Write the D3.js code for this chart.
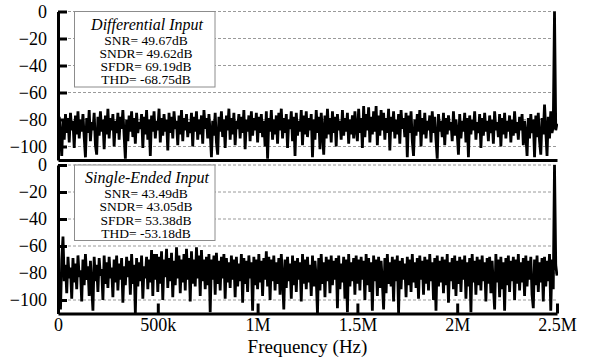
<!DOCTYPE html>
<html>
<head>
<meta charset="utf-8">
<script src="https://cdn.jsdelivr.net/npm/d3@7"></script>
<style>
  body { margin: 0; background: #fff; }
  .grid line { stroke: #9a9a9a; stroke-width: 1; stroke-dasharray: 3,2; }
  .axis path, .axis line { stroke: #000; stroke-width: 3; }
  .axis text { fill: #000; }
</style>
</head>
<body>
<script>
var fullWidth = 590;
var fullHeight = 361;
var serif = "'Liberation Serif', 'Times New Roman', 'DejaVu Serif', serif";

// FFT bins: 401 points from 0 to 2.5 MHz
var fMax = 2500000;

// spectrum (dB), differential input
var diffDb = [
  -84, -78, -92, -107, -80, -95, -76, -90, -79, -97, -75, -88, -81, -101, -77, -91, -74, -94, -80, -89,
  -76, -93, -108, -79, -90, -73, -96, -82, -88, -75, -99, -106, -78, -92, -74, -89, -80, -102, -77, -91,
  -72, -94, -79, -88, -76, -100, -81, -90, -75, -95, -78, -87, -73, -92, -109, -80, -96, -77, -89, -74,
  -93, -79, -98, -75, -90, -82, -87, -76, -101, -78, -91, -73, -95, -80, -107, -77, -89, -74, -94, -81,
  -88, -72, -97, -79, -92, -76, -89, -80, -103, -75, -90, -78, -94, -74, -87, -81, -99, -77, -91, -73,
  -96, -79, -88, -76, -93, -82, -90, -75, -100, -78, -89, -74, -95, -80, -91, -77, -98, -73, -87, -79,
  -94, -76, -90, -108, -81, -92, -75, -97, -106, -78, -89, -74, -93, -80, -101, -77, -88, -72, -95, -79,
  -91, -75, -99, -81, -87, -76, -94, -78, -90, -73, -102, -80, -89, -77, -96, -74, -92, -79, -88, -75,
  -97, -78, -90, -76, -93, -81, -100, -74, -109, -79, -89, -73, -95, -80, -91, -77, -98, -75, -88, -72,
  -94, -79, -90, -76, -101, -80, -87, -74, -96, -78, -107, -75, -92, -81, -89, -73, -99, -77, -91, -74,
  -93, -79, -88, -76, -108, -80, -95, -73, -90, -78, -102, -75, -89, -106, -77, -94, -72, -91, -79, -97,
  -74, -90, -78, -100, -76, -88, -81, -95, -73, -92, -79, -89, -75, -98, -80, -91, -77, -94, -74, -87,
  -96, -72, -90, -79, -101, -70, -93, -76, -88, -71, -97, -78, -91, -74, -89, -70, -99, -77, -92, -73,
  -88, -75, -95, -79, -90, -72, -103, -78, -89, -74, -94, -80, -91, -76, -98, -73, -87, -79, -93, -75,
  -108, -77, -90, -74, -96, -107, -80, -92, -76, -89, -73, -100, -79, -91, -75, -94, -81, -88, -77, -97,
  -74, -90, -78, -95, -109, -76, -89, -81, -93, -75, -99, -79, -91, -77, -88, -82, -96, -74, -92, -80,
  -90, -106, -76, -94, -81, -89, -75, -97, -79, -108, -77, -91, -80, -88, -74, -95, -82, -90, -76, -101,
  -79, -92, -75, -89, -81, -96, -77, -90, -80, -98, -74, -88, -82, -93, -76, -100, -79, -91, -75, -94,
  -81, -89, -77, -97, -80, -92, -74, -90, -82, -95, -78, -88, -76, -99, -81, -91, -107, -79, -94, -76,
  -90, -80, -108, -77, -93, -75, -96, -106, -79, -91, -69, -88, -107, -78, -94, -74, -90, -85, 0, -88,
  -83
];

// spectrum (dB), single-ended input
var singleDb = [
  -72, -88, -107, -70, -53, -86, -74, -95, -68, -84, -76, -99, -69, -87, -73, -92, -67, -83, -78, -101,
  -70, -89, -66, -85, -75, -97, -71, -90, -108, -68, -86, -74, -94, -69, -82, -77, -100, -67, -88, -72,
  -91, -68, -84, -76, -98, -70, -87, -67, -93, -73, -85, -69, -102, -75, -89, -68, -83, -71, -96, -66,
  -88, -74, -110, -69, -90, -72, -86, -67, -99, -75, -84, -68, -92, -70, -87, -63, -97, -66, -85, -66,
  -94, -68, -88, -64, -100, -70, -83, -62, -91, -69, -86, -65, -98, -71, -89, -61, -84, -67, -95, -70,
  -87, -66, -93, -62, -85, -69, -101, -64, -88, -70, -90, -61, -84, -67, -97, -63, -86, -70, -92, -68,
  -89, -66, -109, -70, -85, -67, -96, -65, -88, -71, -93, -68, -84, -66, -99, -69, -87, -72, -91, -67,
  -85, -70, -98, -68, -90, -73, -86, -66, -102, -69, -88, -71, -94, -67, -84, -72, -108, -68, -89, -70,
  -92, -66, -87, -71, -97, -69, -85, -64, -90, -68, -100, -70, -86, -67, -93, -72, -88, -69, -96, -66,
  -84, -107, -70, -91, -68, -86, -73, -99, -67, -89, -71, -94, -69, -85, -72, -101, -66, -88, -70, -92,
  -68, -87, -74, -97, -67, -90, -71, -84, -110, -69, -93, -66, -88, -72, -98, -68, -86, -70, -95, -67,
  -89, -71, -85, -69, -106, -67, -92, -73, -87, -68, -99, -70, -109, -66, -90, -72, -86, -69, -96, -67,
  -88, -70, -93, -68, -85, -71, -100, -66, -89, -69, -94, -72, -108, -67, -86, -70, -97, -68, -91, -71,
  -87, -107, -69, -95, -66, -88, -72, -90, -68, -101, -70, -86, -67, -110, -71, -92, -69, -85, -73, -98,
  -68, -89, -70, -94, -66, -87, -72, -91, -69, -99, -67, -85, -71, -96, -68, -88, -70, -93, -66, -86,
  -72, -100, -69, -108, -67, -90, -71, -87, -68, -95, -70, -89, -66, -102, -72, -86, -69, -92, -67, -97,
  -71, -88, -68, -94, -70, -85, -67, -99, -72, -90, -69, -109, -66, -87, -71, -96, -68, -89, -70, -93,
  -67, -86, -72, -101, -69, -88, -68, -95, -71, -90, -107, -66, -87, -70, -98, -68, -92, -72, -108, -69,
  -89, -67, -94, -71, -86, -68, -100, -70, -88, -66, -93, -72, -87, -69, -97, -67, -90, -71, -85, -68,
  -96, -106, -70, -89, -67, -94, -72, -87, -69, -101, -68, -90, -71, -86, -66, -108, -70, -92, 0, -74,
  -82
];

var yTicks = [0, -20, -40, -60, -80, -100];
var xTicks = [0, 500000, 1000000, 1500000, 2000000, 2500000];
var xTickLabels = ["0", "500k", "1M", "1.5M", "2M", "2.5M"];

var panels = [
  { data: diffDb, title: "Differential Input",
    lines: ["SNR= 49.67dB", "SNDR= 49.62dB", "SFDR= 69.19dB", "THD= -68.75dB"],
    top: 11.5, bottom: 160, xTicks: false },
  { data: singleDb, title: "Single-Ended Input",
    lines: ["SNR= 43.49dB", "SNDR= 43.05dB", "SFDR= 53.38dB", "THD= -53.18dB"],
    top: 165, bottom: 313.5, xTicks: true }
];

var left = 58, right = 557;

var svg = d3.select("body")
            .append("svg")
            .attr("width", fullWidth)
            .attr("height", fullHeight)
            .attr("font-family", serif);

var xScale = d3.scaleLinear()
               .domain([0, fMax])
               .range([left, right]);

var step = fMax / (diffDb.length - 1);

panels.forEach(function(p, k) {

    var yScale = d3.scaleLinear()
                   .domain([-110, 0])
                   .range([p.bottom, p.top]);

    // dashed grid
    svg.append("g")
       .attr("class", "grid")
       .selectAll("line")
       .data(yTicks)
       .enter()
       .append("line")
       .attr("x1", left)
       .attr("x2", right)
       .attr("y1", function(d) { return yScale(d); })
       .attr("y2", function(d) { return yScale(d); });

    svg.append("clipPath")
       .attr("id", "clip" + k)
       .append("rect")
       .attr("x", left)
       .attr("y", p.top - 2)
       .attr("width", right - left + 1)
       .attr("height", p.bottom - p.top + 2);

    var line = d3.line()
                 .x(function(d, i) { return xScale(i * step); })
                 .y(function(d) { return yScale(d); });

    svg.append("path")
       .datum(p.data)
       .attr("clip-path", "url(#clip" + k + ")")
       .attr("d", line)
       .style("fill", "none")
       .style("stroke", "#000")
       .style("stroke-width", 2.8)
       .style("stroke-linejoin", "bevel");

    // legend box
    var bx = 74.5, bw = 140.5, bh = 75.5;
    svg.append("rect")
       .attr("x", bx)
       .attr("y", p.top)
       .attr("width", bw)
       .attr("height", bh)
       .style("fill", "#fff")
       .style("stroke", "#8c8c8c")
       .style("stroke-width", 1);

    svg.append("text")
       .attr("x", 147)
       .attr("y", p.top + 18)
       .style("text-anchor", "middle")
       .style("font-family", serif)
       .style("font-style", "italic")
       .style("font-size", "16px")
       .text(p.title);

    p.lines.forEach(function(t, i) {
        svg.append("text")
           .attr("x", 146)
           .attr("y", p.top + 33 + i * 13.3)
           .style("text-anchor", "middle")
           .style("font-family", serif)
           .style("font-size", "13.5px")
           .text(t);
    });

    // axes
    var xAxis = d3.axisBottom(xScale)
                  .tickSizeOuter(0);
    if (p.xTicks) {
        xAxis.tickValues(xTicks)
             .tickSizeInner(-10)
             .tickPadding(5)
             .tickFormat(function(d, i) { return xTickLabels[i]; });
    } else {
        xAxis.tickValues([]);
    }

    svg.append("g")
       .attr("class", "axis")
       .attr("transform", "translate(0," + p.bottom + ")")
       .call(xAxis)
       .attr("font-family", serif)
       .attr("font-size", 18)
       .selectAll("text")
       .style("font-family", serif);

    var yAxis = d3.axisLeft(yScale)
                  .tickValues(yTicks)
                  .tickSizeInner(-9)
                  .tickSizeOuter(0)
                  .tickPadding(11);

    svg.append("g")
       .attr("class", "axis")
       .attr("transform", "translate(" + left + ",0)")
       .call(yAxis)
       .attr("font-family", serif)
       .attr("font-size", 18)
       .selectAll("text")
       .style("font-family", serif);
});

// x axis name
svg.append("text")
   .attr("x", (left + right) / 2)
   .attr("y", 353)
   .style("text-anchor", "middle")
   .style("font-family", serif)
   .style("font-size", "19px")
   .text("Frequency (Hz)");
</script>
</body>
</html>
